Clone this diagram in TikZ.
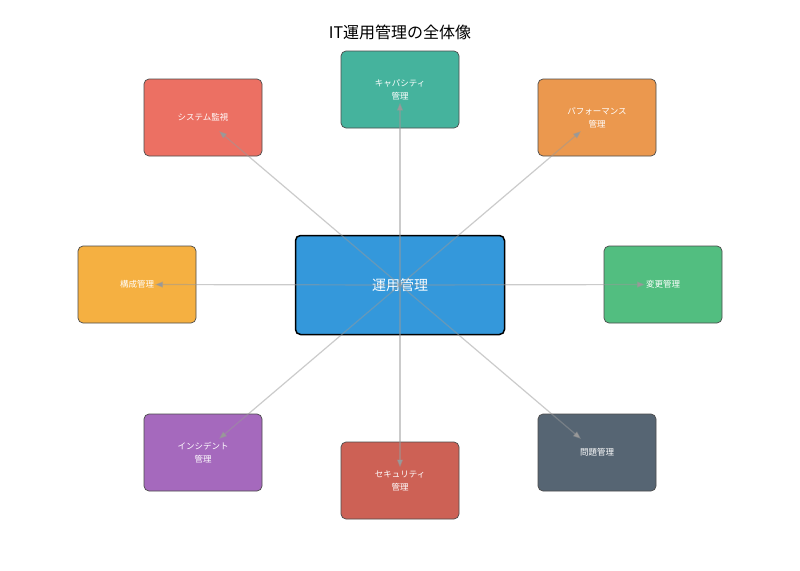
\documentclass[tikz,border=0pt]{standalone}
\usepackage{fontspec}
\setmainfont{Noto Sans CJK JP}
\usetikzlibrary{arrows.meta}
\definecolor{cSys}{HTML}{E74C3C}
\definecolor{cCap}{HTML}{16A085}
\definecolor{cPerf}{HTML}{E67E22}
\definecolor{cKos}{HTML}{F39C12}
\definecolor{cChg}{HTML}{27AE60}
\definecolor{cInc}{HTML}{8E44AD}
\definecolor{cSec}{HTML}{C0392B}
\definecolor{cPrb}{HTML}{2C3E50}
\definecolor{cMain}{HTML}{3498DB}
\definecolor{cEdge}{HTML}{999999}
\tikzset{
  outerbox/.style={rectangle, rounded corners=5pt, draw=black!70, line width=0.7pt,
    minimum width=118pt, minimum height=77pt, text=white, font=\fontsize{8.5}{13}\selectfont,
    align=center, inner sep=0pt},
  mainbox/.style={rectangle, rounded corners=5pt, draw=black, line width=1.5pt, fill=cMain,
    minimum width=209pt, minimum height=99pt, text=white, font=\fontsize{14}{16}\selectfont, inner sep=0pt},
  edge/.style={draw=cEdge, line width=1.2pt, draw opacity=0.5, -{Triangle[length=8pt,width=6pt]}},
  titletext/.style={font=\fontsize{16}{18}\selectfont, text=black}
}
\begin{document}
\begin{tikzpicture}[x=1pt,y=-1pt]
\useasboundingbox (0,0) rectangle (800,570);
\fill[white] (0,0) rectangle (800,570);
\node[titletext] (title) at (400,32) {IT運用管理の全体像};
\node[mainbox] (main) at (400,285) {運用管理};
\node[outerbox, fill=cSys!80] (sys) at (203,117.5) {システム監視};
\node[outerbox, fill=cCap!80] (cap) at (400,89.5) {キャパシティ\\管理};
\node[outerbox, fill=cPerf!80] (perf) at (597,117.5) {パフォーマンス\\管理};
\node[outerbox, fill=cKos!80] (kos) at (137,284.5) {構成管理};
\node[outerbox, fill=cChg!80] (chg) at (663,284.5) {変更管理};
\node[outerbox, fill=cInc!80] (inc) at (203,452.5) {インシデント\\管理};
\node[outerbox, fill=cSec!80] (sec) at (400,480.5) {セキュリティ\\管理};
\node[outerbox, fill=cPrb!80] (prb) at (597,452.5) {問題管理};
\draw[edge, shorten >=21pt] (main.center) -- (sys.center);
\draw[edge, shorten >=13pt] (main.center) -- (cap.center);
\draw[edge, shorten >=21pt] (main.center) -- (perf.center);
\draw[edge, shorten >=18pt] (main.center) -- (kos.center);
\draw[edge, shorten >=18pt] (main.center) -- (chg.center);
\draw[edge, shorten >=21pt] (main.center) -- (inc.center);
\draw[edge, shorten >=13pt] (main.center) -- (sec.center);
\draw[edge, shorten >=21pt] (main.center) -- (prb.center);
\end{tikzpicture}
\end{document}
